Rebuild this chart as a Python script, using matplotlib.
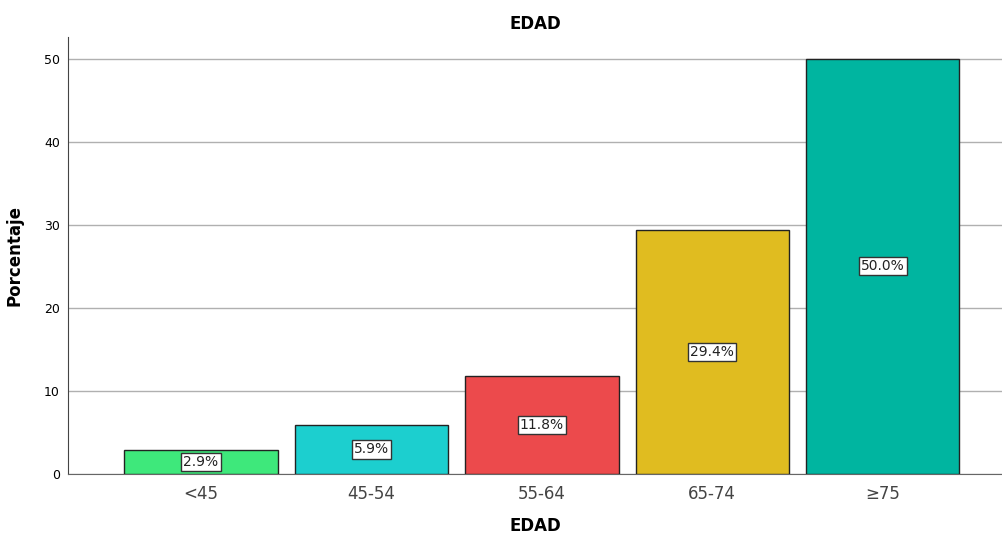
import numpy as np
import matplotlib.pyplot as plt

# Data
categories = ['<45', '45-54', '55-64', '65-74', '≥75']
percentages = [2.9, 5.9, 11.8, 29.4, 50.0]
colors = ['#3ee87b', '#1ccfcf', '#ec4a4c', '#e0bc20', '#00b5a0']

fig = plt.figure(figsize=(10.02, 5.35), dpi=100)
ax = fig.add_axes([0.068, 0.114, 0.932, 0.817])

x = np.arange(len(categories))
bars = ax.bar(x, percentages, width=0.9, color=colors, edgecolor='#222222', linewidth=1.0, zorder=3)

# Labels at the middle of each bar
for xi, val in zip(x, percentages):
    ax.text(xi, val / 2, f'{val:.1f}%', ha='center', va='center', fontsize=10, color='#222222',
            bbox=dict(boxstyle='square,pad=0.15', facecolor='white', edgecolor='#333333', linewidth=1.0),
            zorder=4)

ax.set_xlim(-0.78, 4.70)
ax.set_ylim(0, 52.6)
ax.set_yticks([0, 10, 20, 30, 40, 50])
ax.set_xticks(x)
ax.set_xticklabels(categories, fontsize=12, color='#444444')
ax.tick_params(axis='y', labelsize=9, length=0, pad=6)
ax.tick_params(axis='x', length=0, pad=8)

ax.yaxis.grid(True, color='#b0b0b0', linewidth=1.0, zorder=0)
ax.set_axisbelow(True)

for side in ['top', 'right']:
    ax.spines[side].set_visible(False)
ax.spines['left'].set_color('#444444')
ax.spines['bottom'].set_color('#666666')

ax.set_title('EDAD', fontsize=12, fontweight='bold', pad=6)
ax.set_xlabel('EDAD', fontsize=12, fontweight='bold')
ax.set_ylabel('Porcentaje', fontsize=12, fontweight='bold')
ax.xaxis.set_label_coords(0.5, -0.098)
ax.yaxis.set_label_coords(-0.048, 0.5)

fig.savefig('out.png', dpi=100)
